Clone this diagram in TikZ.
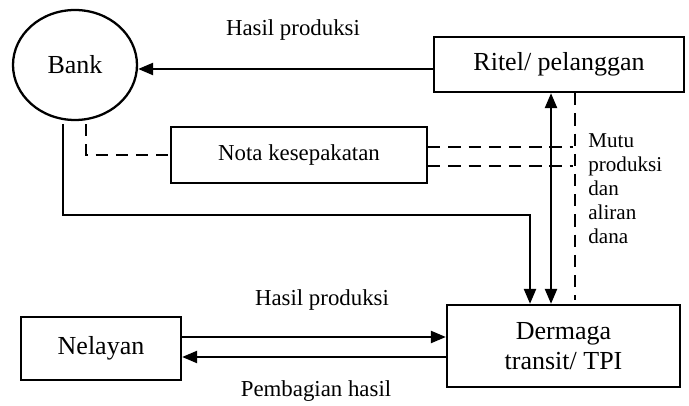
\documentclass[tikz,border=0pt]{standalone}
\usepackage{fontspec}
\setmainfont{Liberation Serif}
\usetikzlibrary{arrows.meta,positioning,calc,shapes.geometric}
\tikzset{box/.style={draw=black,line width=1.3pt,align=center,inner sep=2pt,font=\fontsize{14.8}{17}\selectfont},arrow/.style={-{Triangle[length=3mm,width=2.4mm]},line width=1.3pt},dblarrow/.style={{Triangle[length=3mm,width=2.4mm]}-{Triangle[length=3mm,width=2.4mm]},line width=1.3pt},dashline/.style={dash pattern=on 7pt off 4.5pt,line width=1.3pt},lab/.style={font=\fontsize{13}{15}\selectfont,inner sep=0pt}}

\begin{document}
\begin{tikzpicture}
\useasboundingbox (0,0) rectangle (13.78,8.12);
\node[box,ellipse,minimum width=2.48cm,minimum height=2.2cm] (bank) at (1.5,6.82) {Bank};
\node[box,minimum width=5cm,minimum height=1.1cm] (ritel) at (11.18,6.83) {Ritel/ pelanggan};
\node[box,minimum width=5.12cm,minimum height=1.12cm,font=\fontsize{13}{15}\selectfont] (nota) at (5.98,5.02) {Nota kesepakatan};
\node[box,minimum width=4.66cm,minimum height=1.64cm] (tpi) at (11.27,1.2) {Dermaga\\transit/ TPI};
\node[box,minimum width=3.2cm,minimum height=1.26cm] (nelayan) at (2.02,1.15) {Nelayan};
\node[lab] (hp1) at (5.86,7.52) {Hasil produksi};
\node[lab] (hp2) at (6.44,2.12) {Hasil produksi};
\node[lab] (bagi) at (6.32,0.3) {Pembagian hasil};
\node[lab,font=\fontsize{12}{13.7}\selectfont,align=left,anchor=north west] (mutu) at (11.76,5.46) {Mutu\\produksi\\dan\\aliran\\dana};
\coordinate (bend) at (10.6,3.82);\coordinate (mid) at (11.02,0);\coordinate (dashx) at (11.5,2.12);
\coordinate (dt) at (11.46,5.18);\coordinate (db) at (11.46,4.8);\coordinate (up) at (0,1.38);\coordinate (lo) at (0,0.98);
\draw[arrow]([yshift=-0.09cm]ritel.west)--([yshift=-0.09cm]ritel.west -| bank.east);
\draw[dashline]($(bank.south)+(0.22,-0.06)$)|-(nota.west);
\draw[arrow]($(bank.south)+(-0.24,-0.06)$)|-(bend)--(bend |- tpi.north);
\draw[dblarrow](tpi.north -| mid)--(ritel.south -| mid);
\draw[dashline](ritel.south -| dashx)--(dashx);
\draw[dashline](nota.east |- dt)--(dt);\draw[dashline](nota.east |- db)--(db);
\draw[arrow](nelayan.east |- up)--(tpi.west |- up);\draw[arrow](tpi.west |- lo)--(nelayan.east |- lo);
\end{tikzpicture}
\end{document}
